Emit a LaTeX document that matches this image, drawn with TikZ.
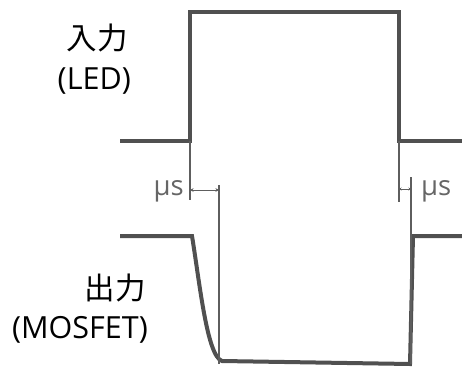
\documentclass[tikz,border=0pt]{standalone}
\usepackage{fontspec}
\setmainfont{Open Sans}
\newfontfamily\jpfont{Noto Sans CJK JP}
\usepackage{tikz}
\usetikzlibrary{arrows.meta,calc,positioning}
\definecolor{wavegray}{HTML}{505050}
\definecolor{markgray}{HTML}{5E5E5E}
\definecolor{unitgray}{HTML}{666666}

\begin{document}
\begin{tikzpicture}[x=1pt,y=-1pt,>={Stealth[length=3.5pt,width=3.5pt]}]
\tikzset{wave/.style={draw=wavegray,line width=4pt,line join=miter},
  marker/.style={draw=markgray,line width=1.4pt},
  lbl/.style={inner sep=0pt,font=\fontsize{30.5}{34}\selectfont},
  unit/.style={inner sep=0pt,text=unitgray,font=\fontsize{27.5}{30}\selectfont}}
\useasboundingbox (0,0) rectangle (462,366);
% input (LED)
\coordinate (inA) at (120,141);
\coordinate (inB) at (190,141);
\coordinate (inC) at (190,12);
\coordinate (inD) at (399,12);
\coordinate (inE) at (399,141);
\coordinate (inF) at (462,141);
\draw[wave] (inA) -- (inB) -- (inC) -- (inD) -- (inE) -- (inF);
% output (MOSFET)
\coordinate (outA) at (120,236);
\coordinate (outB) at (192,236);
\coordinate (outC) at (222,361);
\coordinate (outD) at (410,364);
\coordinate (outE) at (413,236);
\coordinate (outF) at (462,236);
\draw[wave] (outA) -- (outB) .. controls (200,285) and (207,356) .. (outC) -- (outD) -- (outE) -- (outF);
% delay markers
\coordinate (onL) at (190,200);
\coordinate (offL) at (219,185);
\coordinate (offLb) at (219,364);
\coordinate (onR) at (399,202);
\coordinate (offR) at (411,177);
\coordinate (offRb) at (411,364);
\draw[marker] (inB) -- (onL);
\draw[marker] (offL) -- (offLb);
\draw[marker] (inE) -- (onR);
\draw[marker] (offR) -- (offRb);
\draw[marker,<->,line width=1pt] (190,190) -- (219,190);
\draw[marker,<->,line width=1pt,>={Stealth[length=2.5pt,width=3pt]}] (399,189) -- (411,189);
\node[unit,anchor=east] (tonlbl) at (184,191) {µs};
\node[unit,anchor=west] (tofflbl) at (421,191) {µs};
% labels
\node[lbl,anchor=east] (inname) at (128,38) {\jpfont 入力};
\node[lbl,anchor=east] (inpart) at (131,81) {(LED)};
\node[lbl,anchor=east] (outname) at (146,288) {\jpfont 出力};
\node[lbl,anchor=east] (outpart) at (148,330) {(MOSFET)};
\end{tikzpicture}
\end{document}
